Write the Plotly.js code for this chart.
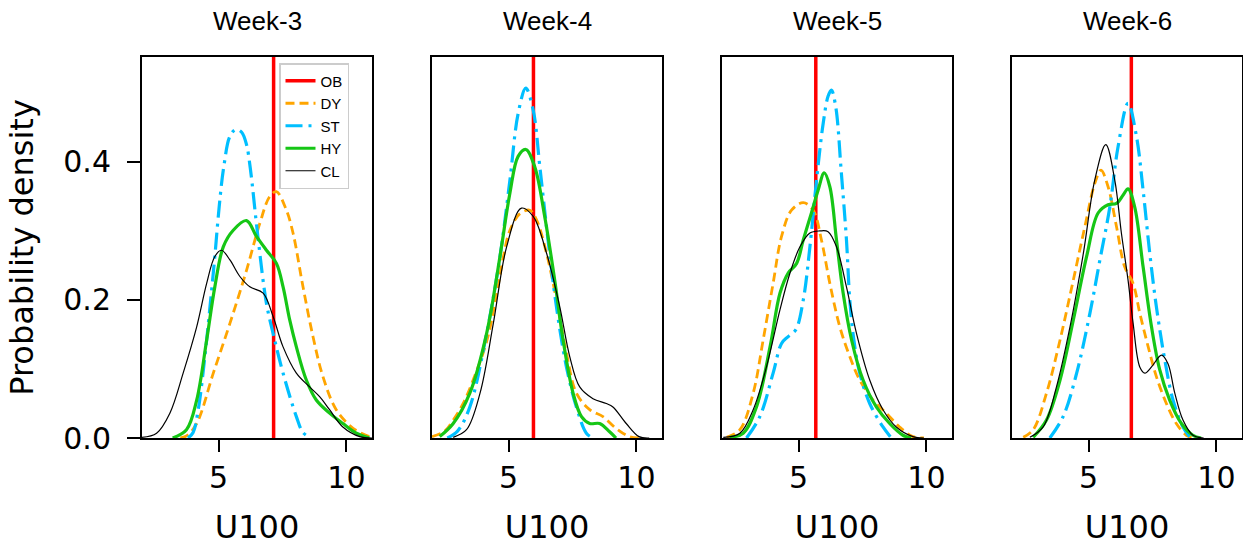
<!DOCTYPE html>
<html><head><meta charset="utf-8">
<script src="https://cdn.plot.ly/plotly-3.0.1.min.js"></script>
<style>html,body{margin:0;padding:0;background:#fff}#chart{width:1243px;height:546px}</style>
</head><body><div id="chart"></div>
<script>
// ---------- data ----------
const weeks = ['Week-3', 'Week-4', 'Week-5', 'Week-6'];
const seriesNames = ['OB', 'DY', 'ST', 'HY', 'CL'];
const obValues = [7.15, 5.97, 5.67, 6.67];
const xTicks = [5, 10];
const yTicks = [0, 0.2, 0.4];
const yTickText = ['0.0', '0.2', '0.4'];

// Week-3
const dyX3 = [3.5, 3.74, 4.14, 4.79, 5.44, 6.09, 6.61, 7.0, 7.26, 7.65, 7.91, 8.3, 8.69, 9.08, 9.6, 10.26, 10.9, 11.0];
const dyY3 = [0, 0.003, 0.021, 0.094, 0.166, 0.243, 0.311, 0.35, 0.357, 0.33, 0.297, 0.219, 0.147, 0.089, 0.041, 0.014, 0.002, 0.001];
const stX3 = [3.8, 4.0, 4.2, 4.46, 4.66, 4.85, 5.02, 5.2, 5.44, 5.67, 5.9, 6.09, 6.24, 6.54, 6.87, 7.16, 7.52, 8.04, 8.3, 8.6];
const stY3 = [0, 0.008, 0.041, 0.118, 0.19, 0.263, 0.335, 0.393, 0.437, 0.447, 0.443, 0.425, 0.39, 0.29, 0.195, 0.147, 0.094, 0.031, 0.008, 0];
const hyX3 = [3.2, 3.74, 4.14, 4.53, 4.85, 5.18, 5.57, 6.09, 6.48, 6.87, 7.26, 7.52, 7.78, 8.04, 8.43, 8.82, 9.34, 9.86, 10.39, 10.9];
const hyY3 = [0, 0.012, 0.055, 0.142, 0.219, 0.277, 0.301, 0.315, 0.292, 0.272, 0.253, 0.219, 0.171, 0.132, 0.084, 0.055, 0.036, 0.021, 0.007, 0];
const clX3 = [2.0, 2.57, 3.09, 3.61, 4.14, 4.53, 4.85, 5.11, 5.44, 5.83, 6.22, 6.74, 7.13, 7.52, 8.04, 8.56, 8.95, 9.34, 9.86, 10.52, 11.0];
const clY3 = [0.001, 0.007, 0.036, 0.094, 0.161, 0.224, 0.263, 0.272, 0.258, 0.234, 0.219, 0.21, 0.176, 0.132, 0.094, 0.074, 0.06, 0.041, 0.016, 0.002, 0];

// Week-4
const dyX4 = [2.0, 2.5, 2.83, 3.22, 3.61, 4.14, 4.53, 4.79, 5.05, 5.44, 5.83, 6.09, 6.48, 6.87, 7.26, 7.65, 8.17, 8.69, 9.2, 9.73, 10.2];
const dyY4 = [0.002, 0.01, 0.026, 0.05, 0.084, 0.14, 0.209, 0.262, 0.301, 0.325, 0.33, 0.316, 0.268, 0.2, 0.123, 0.065, 0.041, 0.031, 0.014, 0.002, 0];
const stX4 = [2.6, 3.0, 3.48, 4.14, 4.66, 5.05, 5.37, 5.67, 5.96, 6.22, 6.54, 6.87, 7.26, 7.65, 8.04, 8.3];
const stY4 = [0, 0.01, 0.045, 0.152, 0.263, 0.374, 0.47, 0.507, 0.475, 0.393, 0.287, 0.19, 0.103, 0.045, 0.007, 0];
const hyX4 = [2.3, 2.83, 3.48, 4.14, 4.66, 5.05, 5.37, 5.67, 6.02, 6.41, 6.8, 7.13, 7.52, 7.85, 8.17, 8.56, 8.95, 9.2];
const hyY4 = [0.002, 0.021, 0.065, 0.152, 0.263, 0.355, 0.408, 0.418, 0.393, 0.321, 0.229, 0.142, 0.065, 0.031, 0.021, 0.021, 0.009, 0];
const clX4 = [2.83, 3.35, 3.88, 4.4, 4.92, 5.5, 5.96, 6.48, 7.0, 7.39, 7.78, 8.3, 8.82, 9.08, 9.6, 10.1, 10.5];
const clY4 = [0.001, 0.012, 0.065, 0.166, 0.277, 0.333, 0.321, 0.268, 0.19, 0.118, 0.074, 0.057, 0.05, 0.045, 0.021, 0.002, 0];

// Week-5
const dyX5 = [2.18, 2.7, 3.22, 3.61, 4.0, 4.33, 4.72, 5.18, 5.57, 5.89, 6.22, 6.61, 7.0, 7.39, 7.91, 8.43, 8.95, 9.47, 9.9];
const dyY5 = [0.001, 0.012, 0.065, 0.142, 0.224, 0.292, 0.33, 0.341, 0.33, 0.287, 0.224, 0.161, 0.118, 0.084, 0.055, 0.036, 0.016, 0.002, 0];
const stX5 = [2.96, 3.48, 4.0, 4.33, 4.59, 4.89, 5.18, 5.44, 5.7, 5.96, 6.15, 6.28, 6.45, 6.67, 6.87, 7.0, 7.16, 7.39, 7.78, 8.3, 8.63];
const stY5 = [0, 0.031, 0.094, 0.137, 0.147, 0.157, 0.2, 0.277, 0.374, 0.456, 0.495, 0.504, 0.48, 0.384, 0.287, 0.2, 0.142, 0.094, 0.05, 0.016, 0];
const hyX5 = [2.3, 2.83, 3.35, 3.88, 4.27, 4.59, 4.92, 5.18, 5.5, 5.76, 6.0, 6.22, 6.48, 6.74, 7.07, 7.52, 8.04, 8.56, 9.08, 9.4];
const hyY5 = [0.001, 0.007, 0.045, 0.132, 0.21, 0.239, 0.253, 0.287, 0.326, 0.359, 0.384, 0.364, 0.287, 0.21, 0.142, 0.084, 0.045, 0.021, 0.004, 0];
const clX5 = [2.05, 2.7, 3.22, 3.74, 4.27, 4.66, 5.05, 5.44, 5.83, 6.15, 6.48, 6.87, 7.26, 7.78, 8.3, 8.82, 9.47, 9.9];
const clY5 = [0.001, 0.007, 0.041, 0.103, 0.186, 0.239, 0.277, 0.297, 0.3, 0.299, 0.277, 0.219, 0.152, 0.084, 0.041, 0.016, 0.002, 0];

// Week-6
const dyX6 = [2.44, 2.83, 3.35, 3.88, 4.4, 4.85, 5.24, 5.48, 5.76, 6.09, 6.41, 6.74, 7.0, 7.33, 7.65, 8.04, 8.43, 8.82, 9.1];
const dyY6 = [0.001, 0.012, 0.065, 0.142, 0.229, 0.306, 0.369, 0.388, 0.364, 0.306, 0.248, 0.224, 0.181, 0.132, 0.089, 0.05, 0.021, 0.004, 0];
const stX6 = [3.48, 4.0, 4.53, 5.05, 5.44, 5.83, 6.15, 6.54, 6.87, 7.13, 7.39, 7.65, 7.98, 8.3, 8.69, 8.95];
const stY6 = [0, 0.031, 0.094, 0.181, 0.258, 0.335, 0.422, 0.485, 0.437, 0.359, 0.268, 0.19, 0.113, 0.055, 0.016, 0.002];
const hyX6 = [2.83, 3.35, 3.88, 4.4, 4.92, 5.37, 5.76, 6.09, 6.35, 6.54, 6.8, 7.13, 7.46, 7.78, 8.17, 8.63, 9.08, 9.4];
const hyY6 = [0.001, 0.026, 0.084, 0.171, 0.263, 0.326, 0.338, 0.34, 0.352, 0.361, 0.335, 0.248, 0.161, 0.099, 0.055, 0.021, 0.004, 0];
const clX6 = [2.7, 3.22, 3.74, 4.27, 4.79, 5.24, 5.67, 6.02, 6.28, 6.54, 6.74, 7.0, 7.2, 7.46, 7.85, 8.1, 8.37, 8.69, 9.08, 9.5];
const clY6 = [0.001, 0.016, 0.074, 0.161, 0.267, 0.374, 0.425, 0.374, 0.297, 0.229, 0.166, 0.103, 0.094, 0.103, 0.12, 0.108, 0.065, 0.026, 0.004, 0];

// ---------- build ----------
const panels = [
  {dy: [dyX3, dyY3], st: [stX3, stY3], hy: [hyX3, hyY3], cl: [clX3, clY3]},
  {dy: [dyX4, dyY4], st: [stX4, stY4], hy: [hyX4, hyY4], cl: [clX4, clY4]},
  {dy: [dyX5, dyY5], st: [stX5, stY5], hy: [hyX5, hyY5], cl: [clX5, clY5]},
  {dy: [dyX6, dyY6], st: [stX6, stY6], hy: [hyX6, hyY6], cl: [clX6, clY6]}
];

const W = 1243, H = 546;
const mL = 142, mR = 1, mT = 57, mB = 108;
const plotW = W - mL - mR;
const panelPx = [[142, 372], [432, 662], [722, 952], [1012, 1242]];
const xRange = [2, 11];
const yRange = [0, 0.552];

const styles = {
  OB: {color: '#ff0000', width: 3.5, dash: 'solid'},
  DY: {color: '#ffa500', width: 2.8, dash: '9px,5px'},
  ST: {color: '#00bfff', width: 3.2, dash: '17px,6px,3px,6px'},
  HY: {color: '#16c616', width: 3.2, dash: 'solid'},
  CL: {color: '#000000', width: 1.2, dash: 'solid'}
};

const traces = [];
panels.forEach((p, i) => {
  const xa = i === 0 ? 'x' : 'x' + (i + 1);
  const ya = i === 0 ? 'y' : 'y' + (i + 1);
  const show = i === 0;
  traces.push({
    x: [obValues[i], obValues[i]], y: [yRange[0], yRange[1]],
    xaxis: xa, yaxis: ya, mode: 'lines', name: 'OB', legendgroup: 'OB',
    showlegend: show, line: styles.OB, hoverinfo: 'skip'
  });
  [['DY', p.dy], ['ST', p.st], ['HY', p.hy], ['CL', p.cl]].forEach(([nm, d]) => {
    traces.push({
      x: d[0], y: d[1], xaxis: xa, yaxis: ya, mode: 'lines', name: nm,
      legendgroup: nm, showlegend: show,
      line: Object.assign({shape: 'spline', smoothing: 1}, styles[nm]),
      hoverinfo: 'skip'
    });
  });
});

const layout = {
  width: W, height: H,
  margin: {l: mL, r: mR, t: mT, b: mB, pad: 0},
  paper_bgcolor: '#ffffff', plot_bgcolor: '#ffffff',
  showlegend: true,
  legend: {
    x: (279 - mL) / plotW, y: (438 - 63) / (H - mT - mB),
    xanchor: 'left', yanchor: 'top',
    bgcolor: 'rgba(255,255,255,0.85)', bordercolor: '#cccccc', borderwidth: 1.5,
    font: {family: 'Liberation Sans, Arial, sans-serif', size: 15, color: '#000'},
    tracegroupgap: 0, itemwidth: 30
  },
  annotations: [],
  font: {family: 'DejaVu Sans, sans-serif', color: '#000'}
};

panelPx.forEach((px, i) => {
  const sx = i === 0 ? '' : String(i + 1);
  const dom = [(px[0] - mL) / plotW, Math.min(1, (px[1] - mL) / plotW)];
  layout['xaxis' + sx] = {
    domain: dom, range: xRange, anchor: 'y' + sx,
    tickvals: xTicks, ticks: 'outside', ticklen: 12, tickwidth: 2, tickcolor: '#000',
    showline: true, linecolor: '#000', linewidth: 2, mirror: true,
    showgrid: false, zeroline: false,
    tickfont: {family: 'DejaVu Sans, sans-serif', size: 30, color: '#000'},
    title: {text: 'U100', font: {family: 'DejaVu Sans, sans-serif', size: 32, color: '#000'}, standoff: 24},
    automargin: false
  };
  const yax = {
    domain: [0, 1], range: yRange, anchor: 'x' + sx,
    showline: true, linecolor: '#000', linewidth: 2, mirror: true,
    showgrid: false, zeroline: false, automargin: false
  };
  if (i === 0) {
    Object.assign(yax, {
      tickvals: yTicks, ticktext: yTickText, ticks: 'outside', ticklen: 13, tickwidth: 2, tickcolor: '#000',
      tickfont: {family: 'DejaVu Sans, sans-serif', size: 30, color: '#000'},
      ticklabelstandoff: 10,
      title: {text: 'Probability density', font: {family: 'DejaVu Sans, sans-serif', size: 32, color: '#000'}, standoff: 20}
    });
  } else {
    Object.assign(yax, {showticklabels: false, ticks: ''});
  }
  layout['yaxis' + sx] = yax;
  layout.annotations.push({
    text: weeks[i], xref: 'paper', yref: 'paper',
    x: (dom[0] + dom[1]) / 2, y: 1 + (57 - 21) / (H - mT - mB),
    xanchor: 'center', yanchor: 'middle', showarrow: false,
    font: {family: 'Liberation Sans, Arial, sans-serif', size: 26, color: '#000'}
  });
});

Plotly.newPlot('chart', traces, layout, {displayModeBar: false, staticPlot: true});
</script>
</body></html>
